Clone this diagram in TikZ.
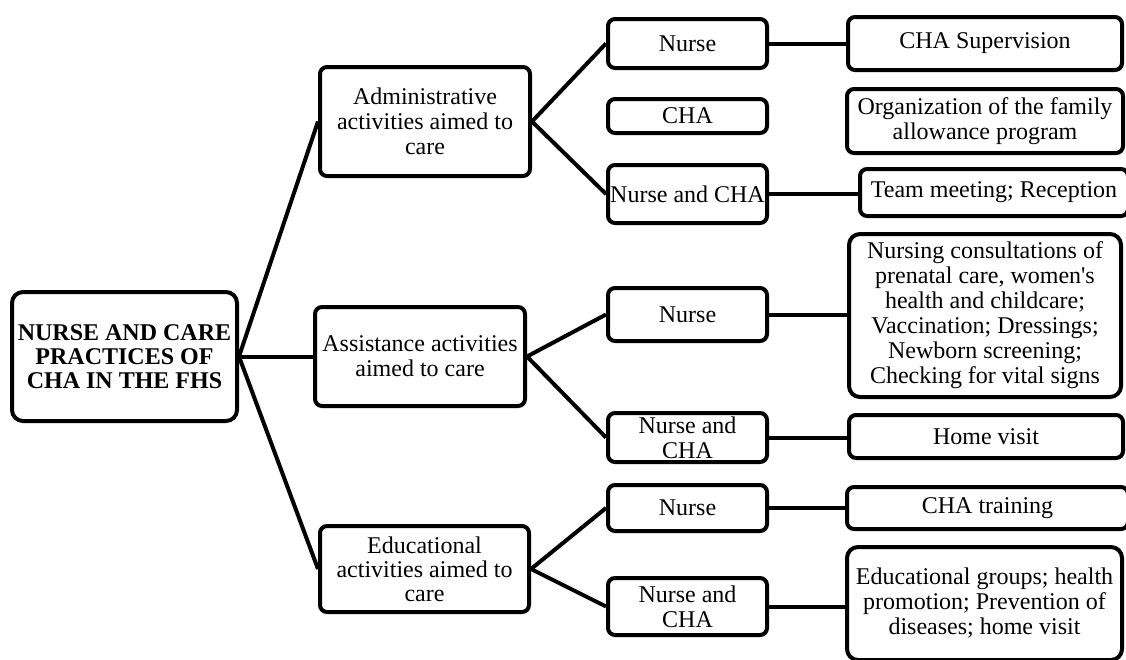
\documentclass[tikz,border=0pt]{standalone}
\usepackage{fontspec}
\setmainfont{Liberation Serif}
\begin{document}
\begin{tikzpicture}[x=1pt,y=-1pt,
  box/.style={draw=black,line width=4pt,rounded corners=7pt,align=center,inner sep=0pt,
    font=\fontsize{24}{25}\selectfont},
  bigbox/.style={box,rounded corners=11pt},
  link/.style={draw=black,line width=4pt}]
\useasboundingbox (0,0) rectangle (1126,659);
% level 0
\node[bigbox,minimum width=225pt,minimum height=129pt,font=\bfseries\fontsize{24}{24}\selectfont] (root) at (124.5,356.5) {NURSE AND CARE\\PRACTICES OF\\CHA IN THE FHS};
% level 1
\node[box,minimum width=210pt,minimum height=109pt] (adm) at (425,121.5) {Administrative\\activities aimed to\\care};
\node[box,minimum width=210pt,minimum height=99pt] (ass) at (420,356.5) {Assistance activities\\aimed to care};
\node[box,minimum width=209pt,minimum height=86pt,font=\fontsize{24}{24}\selectfont] (edu) at (424.5,569) {Educational\\activities aimed to\\care};
% level 2
\node[box,minimum width=159pt,minimum height=49pt] (a1) at (687.5,43.5) {Nurse};
\node[box,minimum width=159pt,minimum height=34pt] (a2) at (687.5,116) {CHA};
\node[box,minimum width=159pt,minimum height=58pt] (a3) at (687.5,194) {Nurse and CHA};
\node[box,minimum width=159pt,minimum height=53pt] (s1) at (687.5,314.5) {Nurse};
\node[box,minimum width=159pt,minimum height=49pt] (s2) at (687.5,437.5) {Nurse and\\CHA};
\node[box,minimum width=159pt,minimum height=46pt] (e1) at (687.5,508) {Nurse};
\node[box,minimum width=159pt,minimum height=57pt] (e2) at (687.5,606.5) {Nurse and\\CHA};
% level 3
\node[box,minimum width=274pt,minimum height=53pt] (r1) at (985,43.5) {CHA Supervision};
\node[box,minimum width=276pt,minimum height=64pt] (r2) at (985,121) {Organization of the family\\allowance program};
\node[box,minimum width=268pt,minimum height=47pt] (r3) at (994,192.5) {Team meeting; Reception};
\node[bigbox,minimum width=272pt,minimum height=163pt] (r4) at (985,315.5) {Nursing consultations of\\prenatal care, women\textquotesingle s\\health and childcare;\\Vaccination; Dressings;\\Newborn screening;\\Checking for vital signs};
\node[box,minimum width=274pt,minimum height=43pt] (r5) at (986,436.5) {Home visit};
\node[box,minimum width=281pt,minimum height=42pt] (r6) at (987.5,508) {CHA training};
\node[bigbox,minimum width=275pt,minimum height=113pt] (r7) at (984.5,603.5) {Educational groups; health\\promotion; Prevention of\\diseases; home visit};
% connectors
\draw[link] (root.east) -- (adm.west);
\draw[link] (root.east) -- (ass.west);
\draw[link] (root.east) -- (edu.west);
\draw[link] (adm.east) -- (a1.west);
\draw[link] (adm.east) -- (a3.west);
\draw[link] (ass.east) -- (s1.west);
\draw[link] (ass.east) -- (s2.west);
\draw[link] (edu.east) -- (e1.west);
\draw[link] (edu.east) -- (e2.west);
\draw[link] (a1.east) -- (a1.east -| r1.west);
\draw[link] (a3.east) -- (a3.east -| r3.west);
\draw[link] (s1.east) -- (s1.east -| r4.west);
\draw[link] (s2.east) -- (s2.east -| r5.west);
\draw[link] (e1.east) -- (e1.east -| r6.west);
\draw[link] (e2.east) -- (e2.east -| r7.west);
\end{tikzpicture}
\end{document}
